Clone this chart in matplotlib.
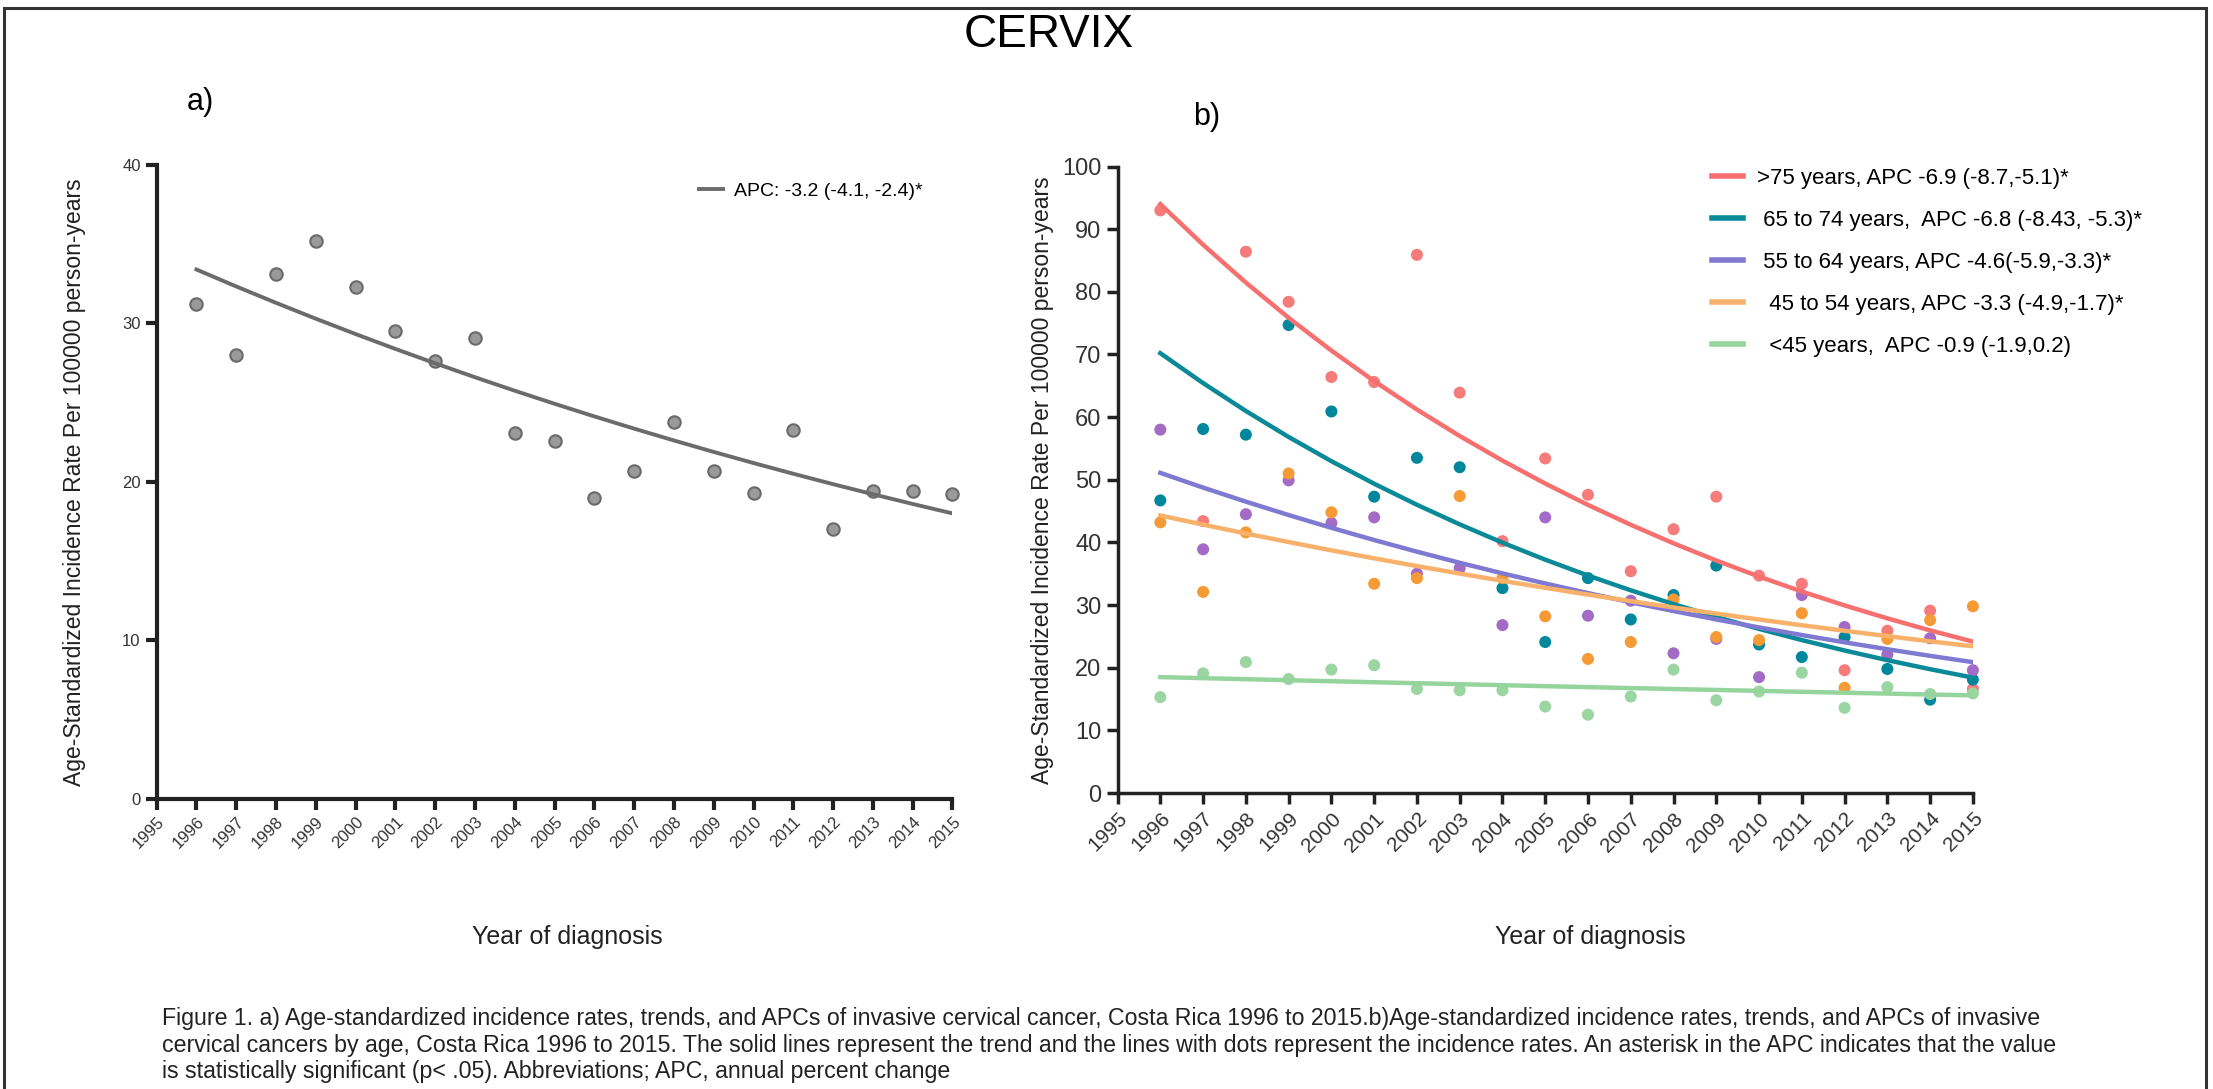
import numpy as np
import matplotlib
matplotlib.use('Agg')
import matplotlib.pyplot as plt
from matplotlib.patches import Rectangle
from matplotlib.lines import Line2D

plt.rcParams['font.family'] = ['Liberation Sans', 'DejaVu Sans']

# ---- data ----
years = np.arange(1996, 2016)

# a) all ages
all_rate = [31.2, 28.0, 33.1, 35.2, 32.3, 29.5, 27.6, 29.1, 23.1, 22.6,
            19.0, 20.7, 23.8, 20.7, 19.3, 23.3, 17.0, 19.4, 19.4, 19.2]
all_fit_start = 33.4
all_apc = -3.2
all_label = 'APC: -3.2 (-4.1, -2.4)*'

# b) by age group
rate_75 = [93.0, 43.4, 86.4, 78.4, 66.4, 65.6, 85.9, 63.9, 40.2, 53.4,
           47.6, 35.4, 42.1, 47.3, 34.7, 33.4, 19.6, 25.9, 29.1, 16.6]
rate_65 = [46.7, 58.1, 57.2, 74.7, 60.9, 47.3, 53.5, 52.0, 32.7, 24.1,
           34.3, 27.7, 31.6, 36.3, 23.7, 21.7, 24.9, 19.8, 14.9, 18.1]
rate_55 = [58.0, 38.9, 44.5, 49.9, 43.1, 44.0, 35.0, 35.9, 26.8, 44.0,
           28.3, 30.7, 22.3, 24.6, 18.5, 31.6, 26.5, 22.1, 24.7, 19.6]
rate_45 = [43.2, 32.1, 41.6, 51.0, 44.8, 33.4, 34.3, 47.4, 34.3, 28.2,
           21.4, 24.1, 30.9, 24.9, 24.4, 28.7, 16.8, 24.6, 27.6, 29.8]
rate_lt45 = [15.3, 19.1, 20.9, 18.2, 19.7, 20.4, 16.6, 16.4, 16.4, 13.8,
             12.5, 15.4, 19.7, 14.8, 16.2, 19.2, 13.6, 16.9, 15.8, 15.9]

group_rates = [rate_75, rate_65, rate_55, rate_45, rate_lt45]
group_fit_start = [94.0, 70.2, 51.1, 44.3, 18.5]
group_apc = [-6.9, -6.8, -4.6, -3.3, -0.9]
group_labels = ['>75 years, APC -6.9 (-8.7,-5.1)*',
                ' 65 to 74 years,  APC -6.8 (-8.43, -5.3)*',
                ' 55 to 64 years, APC -4.6(-5.9,-3.3)*',
                '  45 to 54 years, APC -3.3 (-4.9,-1.7)*',
                '  <45 years,  APC -0.9 (-1.9,0.2)']
line_colors = ['#f5706e', '#0a8a98', '#8079d2', '#f8b16a', '#95d49c']
dot_colors = ['#f67b7b', '#00879c', '#a36ac6', '#f59a34', '#9bd5a1']

caption = ['Figure 1. a) Age-standardized incidence rates, trends, and APCs of invasive cervical cancer, Costa Rica 1996 to 2015.b)Age-standardized incidence rates, trends, and APCs of invasive',
           'cervical cancers by age, Costa Rica 1996 to 2015. The solid lines represent the trend and the lines with dots represent the incidence rates. An asterisk in the APC indicates that the value',
           'is statistically significant (p< .05). Abbreviations; APC, annual percent change']

ylab = 'Age-Standardized Incidence Rate Per 100000 person-years'


def trend(start, apc):
  # log-linear joinpoint trend: constant annual percent change
  return start * (1 + apc / 100.0) ** (years - years[0])


def prism_axes(ax, lw, ticksize, xlabsize):
  for s in ['top', 'right']:
    ax.spines[s].set_visible(False)
  for s in ['left', 'bottom']:
    ax.spines[s].set_linewidth(lw)
    ax.spines[s].set_color('#222222')
  ax.tick_params(direction='out', length=8, width=lw, color='#222222',
                 labelsize=ticksize, labelcolor='#333333')
  ax.set_xlim(1995, 2015)
  ax.set_xticks(range(1995, 2016))
  ax.set_xticklabels([str(y) for y in range(1995, 2016)], rotation=45,
                     ha='right', rotation_mode='anchor', fontsize=xlabsize)


fig = plt.figure(figsize=(22.13, 10.89), dpi=100)

# ---- panel a ----
axa = fig.add_axes([0.0708, 0.2667, 0.3596, 0.5818])
prism_axes(axa, 3.0, 12, 12)
axa.set_ylim(0, 40)
axa.set_yticks([0, 10, 20, 30, 40])
axa.scatter(years, all_rate, s=80, color='#9a9a9a', edgecolor='#6a6a6a',
            linewidth=1.5, zorder=3, clip_on=False)
axa.plot(years, trend(all_fit_start, all_apc), color='#6b6b6b', lw=2.8,
         zorder=4, label=all_label)
axa.legend(loc='upper left', bbox_to_anchor=(0.66, 1.0), frameon=False,
           fontsize=14, handlelength=1.2, handletextpad=0.6)
axa.set_ylabel(ylab, fontsize=16.5, color='#222222', labelpad=26)
axa.set_xlabel('Year of diagnosis', fontsize=18, color='#222222')
axa.xaxis.set_label_coords(0.516, -0.2)

# ---- panel b ----
axb = fig.add_axes([0.505, 0.2718, 0.3865, 0.5753])
prism_axes(axb, 2.5, 17, 15)
axb.set_ylim(0, 100)
axb.set_yticks(range(0, 101, 10))
for r, c in zip(group_rates, dot_colors):
  axb.scatter(years, r, s=75, color=c, edgecolor='none', zorder=3,
              clip_on=False)
handles = []
for st, apc, c, lab in zip(group_fit_start, group_apc, line_colors,
                           group_labels):
  axb.plot(years, trend(st, apc), color=c, lw=3.2, zorder=4)
  handles.append(Line2D([], [], color=c, lw=4))
axb.legend(handles, group_labels, loc='upper left',
           bbox_to_anchor=(0.672, 1.03), frameon=False, fontsize=16,
           handlelength=1.4, handletextpad=0.6, labelspacing=0.95)
axb.set_ylabel(ylab, fontsize=16.5, color='#222222', labelpad=6)
axb.set_xlabel('Year of diagnosis', fontsize=18, color='#222222')
axb.xaxis.set_label_coords(0.553, -0.21)

# ---- figure texts ----
fig.text(0.4737, 0.968, 'CERVIX', fontsize=33, ha='center', va='center')
fig.text(0.0904, 0.906, 'a)', fontsize=22, ha='center', va='center')
fig.text(0.5454, 0.893, 'b)', fontsize=22, ha='center', va='center')
for i, line in enumerate(caption):
  fig.text(0.0732, 0.0643 - i * 0.0239, line, fontsize=16.7, ha='left',
           va='center', color='#222222')

fig.patches.append(Rectangle((0.002, -0.05), 0.995, 1.043,
                             transform=fig.transFigure, fill=False,
                             lw=2.2, edgecolor='#333333'))

fig.savefig('out.png', dpi=100)
